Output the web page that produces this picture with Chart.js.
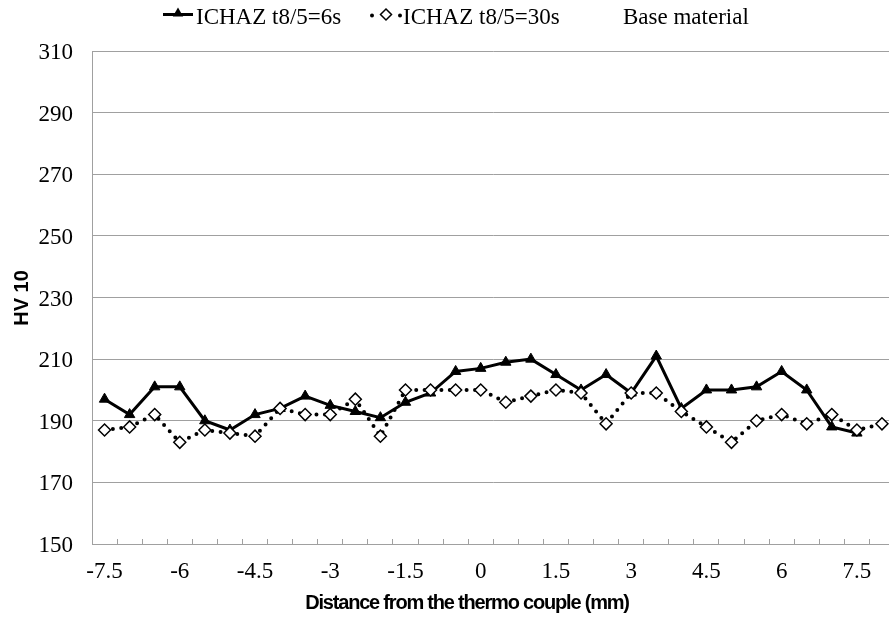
<!DOCTYPE html>
<html><head><meta charset="utf-8">
<script src="https://cdn.jsdelivr.net/npm/chart.js@4.4.0/dist/chart.umd.min.js"></script>
<style>
html,body{margin:0;padding:0;overflow:hidden;background:#fff;width:889px;height:620px}
#wrap{width:902px;height:620px}
canvas{display:block}
</style>
</head><body><div id="wrap"><canvas id="c" width="902" height="620"></canvas></div>
<script>
const categories = ["-7.5","-7","-6.5","-6","-5.5","-5","-4.5","-4","-3.5","-3","-2.5","-2","-1.5","-1","-0.5","0","0.5","1","1.5","2","2.5","3","3.5","4","4.5","5","5.5","6","6.5","7","7.5","8"];
const tickLabels = ["-7.5","-6","-4.5","-3","-1.5","0","1.5","3","4.5","6","7.5"];
const seriesNames = ["ICHAZ t8/5=6s","ICHAZ t8/5=30s","Base material"];
const ichaz6s  = [197,192,201,201,190,187,192,194,198,195,193,191,196,199,206,207,209,210,205,200,205,199,211,194,200,200,201,206,200,188,186,null];
const ichaz30s = [187,188,192,183,187,186,185,194,192,192,197,185,200,200,200,200,196,198,200,199,189,199,199,193,188,183,190,192,189,192,187,189];
const baseMaterial = [];
const yMin = 150, yMax = 310, yStep = 20;
const xTitle = "Distance from the thermo couple (mm)";
const yTitle = "HV 10";

const serif = "'Liberation Serif','Times New Roman',serif";
const sans = "'Liberation Sans',Arial,sans-serif";
const gray = '#a0a0a0';

const legendLayout = [
  {sym: 'line', sx1: 163, sx2: 193, tx: 196},
  {sym: 'dots', sx1: 372, sx2: 400, tx: 403},
  {sym: 'none', tx: 623}
];

const overlay = {
  id: 'overlay',
  afterDraw(chart) {
    const ctx = chart.ctx;
    ctx.save();
    ctx.font = '23px ' + serif;
    ctx.textAlign = 'left';
    ctx.textBaseline = 'alphabetic';
    legendLayout.forEach((L, i) => {
      const cy = 14.5;
      if (L.sym === 'line') {
        ctx.strokeStyle = '#000'; ctx.lineWidth = 3;
        ctx.beginPath(); ctx.moveTo(L.sx1, cy); ctx.lineTo(L.sx2, cy); ctx.stroke();
        ctx.fillStyle = '#000';
        ctx.beginPath();
        const r = 6, x = (L.sx1 + L.sx2) / 2, y = cy - 1;
        ctx.moveTo(x, y - r); ctx.lineTo(x + r * 0.866, y + r * 0.5); ctx.lineTo(x - r * 0.866, y + r * 0.5); ctx.closePath(); ctx.fill();
      } else if (L.sym === 'dots') {
        ctx.fillStyle = '#000';
        [L.sx1, L.sx2].forEach(x => { ctx.beginPath(); ctx.arc(x, cy + 1, 2, 0, Math.PI * 2); ctx.fill(); });
        const x = (L.sx1 + L.sx2) / 2, y = cy, r = 5.5;
        ctx.beginPath(); ctx.moveTo(x, y - r); ctx.lineTo(x + r, y); ctx.lineTo(x, y + r); ctx.lineTo(x - r, y); ctx.closePath();
        ctx.fillStyle = '#fff'; ctx.fill(); ctx.strokeStyle = '#000'; ctx.lineWidth = 1.5; ctx.stroke();
      }
      ctx.fillStyle = '#000';
      ctx.fillText(seriesNames[i], L.tx, 24);
    });
    ctx.font = 'bold 20px ' + sans;
    ctx.textAlign = 'center';
    ctx.textBaseline = 'alphabetic';
    try { ctx.letterSpacing = '-1.2px'; } catch (e) {}
    ctx.fillText(xTitle, 467, 609);
    try { ctx.letterSpacing = '0px'; } catch (e) {}
    ctx.translate(22, 298);
    ctx.rotate(-Math.PI / 2);
    ctx.textBaseline = 'middle';
    ctx.fillText(yTitle, 0, 0);
    ctx.restore();
  }
};

new Chart(document.getElementById('c'), {
  type: 'line',
  data: {
    labels: categories,
    datasets: [
      {label: seriesNames[0], data: ichaz6s, order: 1, borderColor: '#000', borderWidth: 3, tension: 0,
       pointStyle: 'triangle', pointRadius: 6, pointBackgroundColor: '#000', pointBorderColor: '#000', pointBorderWidth: 1, spanGaps: false},
      {label: seriesNames[1], data: ichaz30s, order: 0, borderColor: '#000', borderWidth: 4, borderDash: [0, 8.4], borderCapStyle: 'round', tension: 0,
       pointStyle: 'rectRot', pointRadius: 6, pointBackgroundColor: '#fff', pointBorderColor: '#000', pointBorderWidth: 1.5},
      {label: seriesNames[2], data: baseMaterial, order: 2, borderColor: '#fff', borderWidth: 0, pointRadius: 0}
    ]
  },
  options: {
    responsive: false,
    animation: false,
    events: [],
    layout: {padding: {top: 51, left: 0, right: 0, bottom: 0}},
    plugins: {legend: {display: false}, tooltip: {enabled: false}},
    scales: {
      x: {
        type: 'category', offset: true,
        grid: {offset: true, drawOnChartArea: false, drawTicks: true, tickLength: -5, tickColor: gray, tickWidth: 1},
        border: {color: gray, width: 1},
        ticks: {autoSkip: false, maxRotation: 0, minRotation: 0, padding: 19, color: '#000',
          font: {family: serif, size: 23},
          callback: function(v, i) { const l = categories[i]; return tickLabels.includes(l) ? l : ''; }},
        afterFit(s) { s.height = 76; }
      },
      y: {
        min: yMin, max: yMax,
        ticks: {stepSize: yStep, padding: 19, labelOffset: 2, color: '#000', font: {family: serif, size: 23}},
        grid: {color: gray, drawTicks: false, lineWidth: 1},
        border: {color: gray, width: 1},
        afterFit(s) { s.width = 92; }
      }
    }
  },
  plugins: [overlay]
});
</script>
</body></html>
